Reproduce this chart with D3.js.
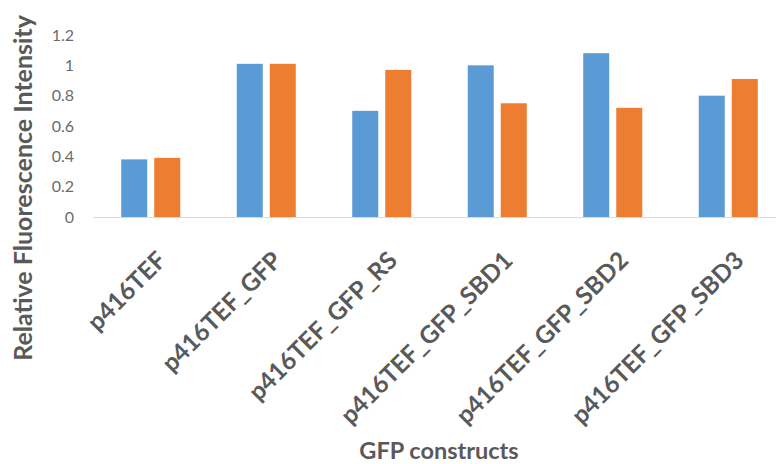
<!DOCTYPE html>
<html>
<head>
<meta charset="utf-8">
<script src="https://cdn.jsdelivr.net/npm/d3@7"></script>
<style>
  html, body { margin: 0; padding: 0; background: #fff; }
  svg { display: block; font-family: Lato, "Open Sans", sans-serif; }
</style>
</head>
<body>
<svg id="chart" width="776" height="464"></svg>
<script>
// Constructs on the x axis
const categories = ["p416TEF", "p416TEF_GFP", "p416TEF_GFP_RS", "p416TEF_GFP_SBD1", "p416TEF_GFP_SBD2", "p416TEF_GFP_SBD3"];
// Two measurement series (blue, orange)
const seriesNames = ["Series1", "Series2"];
const series1 = [0.38, 1.01, 0.70, 1.00, 1.08, 0.80];
const series2 = [0.39, 1.01, 0.97, 0.75, 0.72, 0.91];
const yTicks = [0, 0.2, 0.4, 0.6, 0.8, 1, 1.2];
const colors = ["#5b9bd5", "#ed7d31"];

const svg = d3.select("#chart");
const plot = { left: 93, right: 786, top: 35, bottom: 217 };

const y = d3.scaleLinear().domain([0, 1.2]).range([plot.bottom, plot.top]);
const x0 = d3.scaleBand().domain(categories).range([plot.left, plot.right])
  .paddingInner(0.489).paddingOuter(0.2445);
const x1 = d3.scaleBand().domain(seriesNames).range([0, x0.bandwidth()])
  .paddingInner(0.212);

// Y axis tick labels (no axis line)
const yAxis = svg.append("g").attr("transform", `translate(${plot.left},0)`)
  .call(d3.axisLeft(y).tickValues(yTicks).tickSize(0).tickPadding(19)
    .tickFormat(d => String(d)));
yAxis.select(".domain").remove();
yAxis.selectAll("text")
  .attr("font-family", "Lato, sans-serif")
  .attr("font-size", 16)
  .attr("fill", "#6b6b6b");

// Category axis baseline
const xAxis = svg.append("g").attr("transform", `translate(0,${plot.bottom})`)
  .call(d3.axisBottom(x0).tickSize(0).tickFormat(""));
xAxis.select(".domain").attr("stroke", "#d9d9d9").attr("stroke-width", 1.2);

// Bars
const rows = categories.map((c, i) => ({ c, vals: [series1[i], series2[i]] }));
const groups = svg.append("g").selectAll("g").data(rows).join("g")
  .attr("transform", d => `translate(${x0(d.c)},0)`);
groups.selectAll("rect")
  .data(d => d.vals.map((v, j) => ({ name: seriesNames[j], v, j })))
  .join("rect")
  .attr("x", d => x1(d.name))
  .attr("y", d => y(d.v))
  .attr("width", x1.bandwidth())
  .attr("height", d => y(0) - y(d.v))
  .attr("fill", d => colors[d.j]);

// Rotated category labels
svg.append("g").selectAll("text").data(categories).join("text")
  .attr("transform", d => `translate(${x0(d) + x0.bandwidth() / 2 + 17},${plot.bottom + 45}) rotate(-45)`)
  .attr("text-anchor", "end")
  .attr("font-family", "Lato, sans-serif")
  .attr("font-weight", "bold")
  .attr("font-size", 24.5)
  .attr("fill", "#595959")
  .text(d => d);

// Axis titles
svg.append("text")
  .attr("transform", `translate(32,188) rotate(-90)`)
  .attr("text-anchor", "middle")
  .attr("font-family", "Lato, sans-serif")
  .attr("font-weight", "bold")
  .attr("font-size", 25)
  .attr("fill", "#595959")
  .text("Relative Fluorescence Intensity");

svg.append("text")
  .attr("x", 439).attr("y", 458.5)
  .attr("text-anchor", "middle")
  .attr("font-family", "Lato, sans-serif")
  .attr("font-weight", "bold")
  .attr("font-size", 23.5)
  .attr("fill", "#595959")
  .text("GFP constructs");
</script>
</body>
</html>
